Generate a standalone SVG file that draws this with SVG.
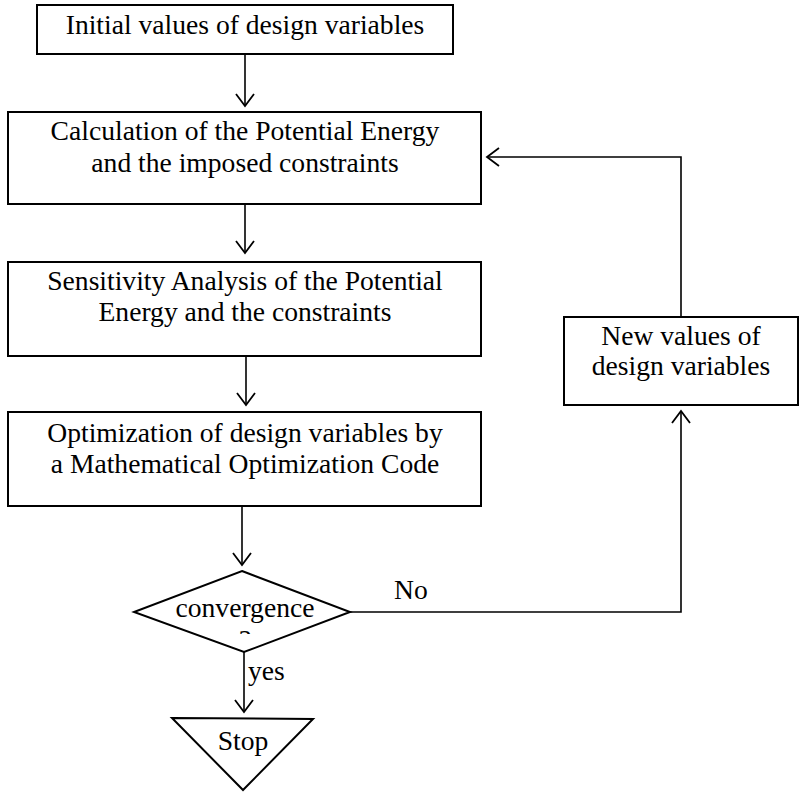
<svg xmlns="http://www.w3.org/2000/svg" width="805" height="793" viewBox="0 0 805 793">
<style>
  .box { fill: #fff; stroke: #000; stroke-width: 2; }
  .t { font-family: "Liberation Serif", "Times New Roman", serif; font-size: 27.6px; fill: #000; text-anchor: middle; }
  .tl { font-family: "Liberation Serif", "Times New Roman", serif; font-size: 27.6px; fill: #000; }
  .conn { fill: none; stroke: #000; stroke-width: 1.6; }
</style>
<defs>
  <marker id="arr" markerUnits="userSpaceOnUse" markerWidth="16" markerHeight="22" viewBox="-14 -11 16 22" refX="0" refY="0" orient="auto" overflow="visible">
    <path d="M-12,-9 L0,0 L-12,9" fill="none" stroke="#000" stroke-width="1.8"/>
  </marker>
  <clipPath id="qclip"><rect x="230" y="626" width="30" height="8"/></clipPath>
</defs>
<rect width="805" height="793" fill="#fff"/>

<g id="connectors">
  <line class="conn" x1="245" y1="54" x2="245" y2="106" marker-end="url(#arr)"/>
  <line class="conn" x1="245" y1="204" x2="245" y2="253" marker-end="url(#arr)"/>
  <line class="conn" x1="246" y1="356" x2="246" y2="405" marker-end="url(#arr)"/>
  <line class="conn" x1="242" y1="506" x2="242" y2="565" marker-end="url(#arr)"/>
  <line class="conn" x1="244" y1="652" x2="244" y2="712" marker-end="url(#arr)"/>
  <polyline class="conn" points="350,612 681,612 681,411" marker-end="url(#arr)"/>
  <polyline class="conn" points="681,317 681,157 487,157" marker-end="url(#arr)"/>
  <text class="tl" x="394" y="599">No</text>
  <text class="tl" x="248" y="680">yes</text>
</g>

<g id="initial">
  <rect class="box" x="37" y="5" width="416" height="49"/>
  <text class="t" x="245" y="34">Initial values of design variables</text>
</g>

<g id="calculation">
  <rect class="box" x="8" y="112" width="473" height="92"/>
  <text class="t" x="245" y="140">Calculation of the Potential Energy</text>
  <text class="t" x="245" y="172">and the imposed constraints</text>
</g>

<g id="sensitivity">
  <rect class="box" x="8" y="262" width="473" height="94"/>
  <text class="t" x="245" y="290">Sensitivity Analysis of the Potential</text>
  <text class="t" x="245" y="321">Energy and the constraints</text>
</g>

<g id="optimization">
  <rect class="box" x="8" y="412" width="473" height="94"/>
  <text class="t" x="245" y="442">Optimization of design variables by</text>
  <text class="t" x="245" y="473">a Mathematical Optimization Code</text>
</g>

<g id="convergence">
  <polygon class="box" points="242,571 350,612 244,652 134,612"/>
  <text class="t" x="245" y="617">convergence</text>
  <text class="t" x="245" y="649" clip-path="url(#qclip)">?</text>
</g>

<g id="stop">
  <polygon class="box" points="172,718 313,719 243,790"/>
  <text class="t" x="243" y="750">Stop</text>
</g>

<g id="new-values">
  <rect class="box" x="564" y="317" width="234" height="88"/>
  <text class="t" x="681" y="345">New values of</text>
  <text class="t" x="681" y="375">design variables</text>
</g>
</svg>
